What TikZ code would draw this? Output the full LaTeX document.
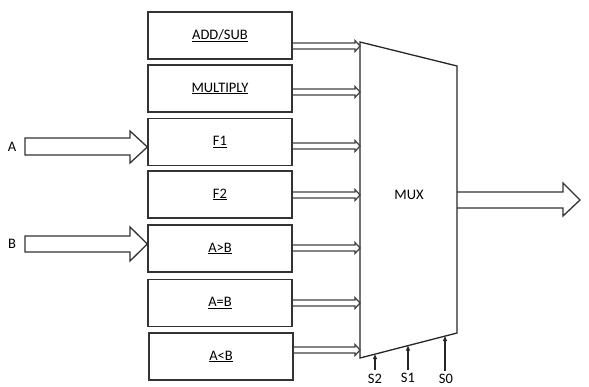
\documentclass[tikz,border=0pt]{standalone}
\usepackage{fontspec}
\setmainfont{Carlito}
\usetikzlibrary{arrows.meta}
\begin{document}
\begin{tikzpicture}[x=1pt,y=-1pt,
  line join=miter,
  box/.style={draw=black!80, line width=1.3pt, minimum width=144pt, minimum height=47pt, inner sep=0pt, font=\fontsize{14.5}{15}\selectfont},
  lbl/.style={font=\fontsize{14.5}{15}\selectfont, inner sep=0pt},
  conn/.style={draw=black!75, line width=1.2pt},
  sel/.style={draw=black!85, line width=1.1pt, -{Triangle[length=5pt,width=4pt]}},
  bigarrow/.style={draw=black!80, line width=1.3pt}]
\useasboundingbox (0,0) rectangle (589,386);
% boxes
\node[box] (b1) at (220,35.5) {\underline{ADD/SUB}};
\node[box] (b2) at (220,88.5) {\underline{MULTIPLY}};
\node[box] (b3) at (220,142) {\underline{F1}};
\node[box] (b4) at (220,194.5) {\underline{F2}};
\node[box] (b5) at (220,248.5) {\underline{A>B}};
\node[box] (b6) at (220,303) {\underline{A=B}};
\node[box] (b7) at (221,356.5) {\underline{A<B}};
% mux
\coordinate (m1) at (360,42);
\coordinate (m2) at (457,66);
\coordinate (m3) at (457,333);
\coordinate (m4) at (360,358);
\draw[draw=black!85, line width=1.3pt] (m1) -- (m2) -- (m3) -- (m4) -- cycle;
\node[lbl] (mux) at (409,195) {MUX};
% small arrows
\foreach \b/\y in {b1/46,b2/92,b3/146,b4/195,b5/248,b6/303,b7/350}{
  \draw[conn] (\b.east |- 0,\y-3) -- (355,\y-3) -- (355,\y-5.5) -- (360,\y) -- (355,\y+5.5) -- (355,\y+3) -- (\b.east |- 0,\y+3);
}
% input A and B
\node[lbl, anchor=center] (A) at (12,147) {A};
\node[lbl, anchor=center] (B) at (12,244) {B};
\draw[bigarrow] (25,138) -- (130,138) -- (130,131) -- (b3.west |- 0,147) -- (130,163) -- (130,155) -- (25,155) -- cycle;
\draw[bigarrow] (25,236) -- (130,236) -- (130,227) -- (b5.west |- 0,244) -- (130,261) -- (130,252) -- (25,252) -- cycle;
% output
\draw[bigarrow] (457,192) -- (563,192) -- (563,183) -- (580,200) -- (563,216) -- (563,208) -- (457,208);
% selects
\node[lbl, anchor=south] (s2) at (375,383.5) {S2};
\node[lbl, anchor=south] (s1) at (408,382.5) {S1};
\node[lbl, anchor=south] (s0) at (446,383.5) {S0};
\coordinate (e2) at (375,354.2);
\coordinate (e1) at (408,345.6);
\coordinate (e0) at (445,336.1);
\draw[sel] (375,370) -- (e2);
\draw[sel] (408,370) -- (e1);
\draw[sel] (445,371) -- (e0);
\end{tikzpicture}
\end{document}
